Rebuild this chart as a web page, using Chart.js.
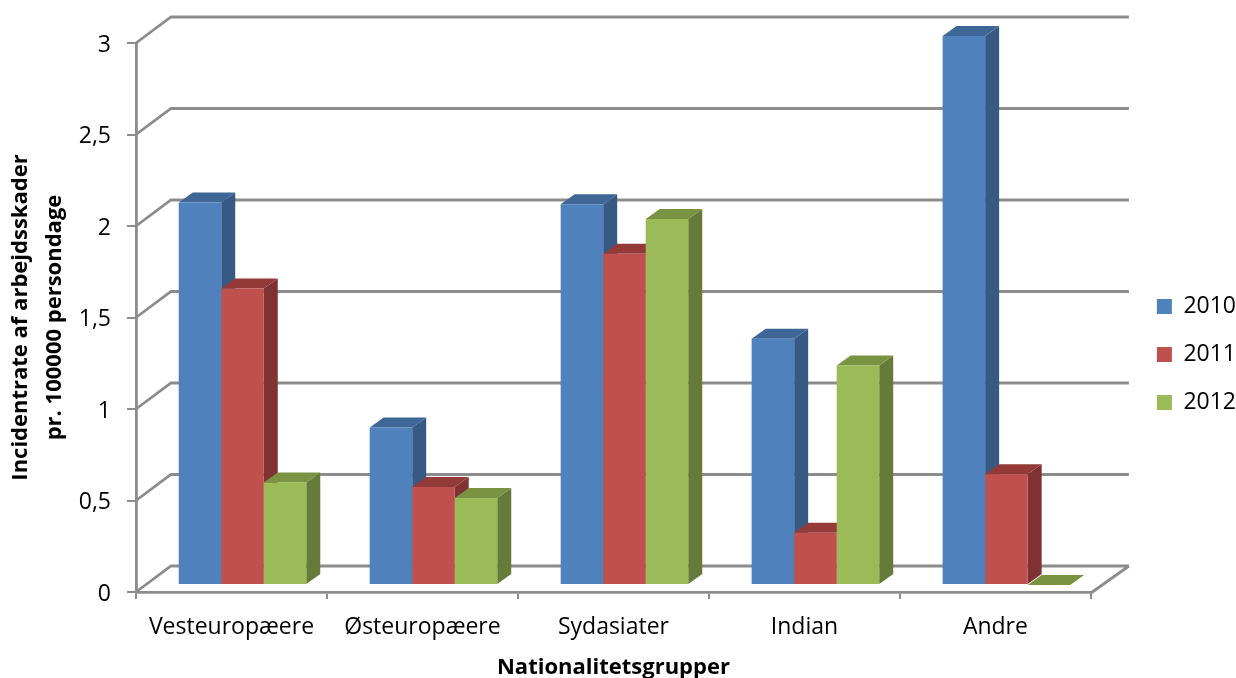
<!DOCTYPE html>
<html>
<head>
<meta charset="utf-8">
<title>Incidentrate af arbejdsskader</title>
<style>
  html, body { margin: 0; padding: 0; background: #fff; }
  canvas { display: block; }
</style>
<script src="https://cdn.jsdelivr.net/npm/chart.js@4/dist/chart.umd.min.js"></script>
</head>
<body>
<canvas id="chart" width="1236" height="678"></canvas>
<script>
// Data.
const categories = ['Vesteuropæere', 'Østeuropæere', 'Sydasiater', 'Indian', 'Andre'];
const values2010 = [2.09, 0.86, 2.08, 1.345, 3.0];
const values2011 = [1.62, 0.535, 1.81, 0.285, 0.605];
const values2012 = [0.56, 0.475, 2.0, 1.2, 0];
const tickLabels = ['0', '0,5', '1', '1,5', '2', '2,5', '3'];

// Fake 3D: front, side and top colours per series.
const FRONT = ['#4F81BD', '#C0504D', '#9BBB59'];
const SIDE = ['#375A85', '#7F3231', '#667A3A'];
const TOP = ['#3E6696', '#943A38', '#7A9342'];
const AXIS = '#8C8C8C';
const FONT = 'Open Sans';

const WALL_DX = 35, WALL_DY = -26;   // back wall offset
const BAR_DX = 11, BAR_DY = -7;      // bars stand in the middle of the floor
const SIDE_DX = 14, SIDE_DY = -10;   // depth of a bar

function poly(ctx, color, pts) {
    ctx.fillStyle = color;
    ctx.beginPath();
    pts.forEach(([x, y], i) => i ? ctx.lineTo(x, y) : ctx.moveTo(x, y));
    ctx.closePath();
    ctx.fill();
}

const walls = {
    id: 'walls',
    beforeDatasetsDraw(chart) {
        const {ctx, chartArea: area, scales: {y}} = chart;
        ctx.save();
        ctx.strokeStyle = AXIS;
        ctx.lineWidth = 2.8;
        y.ticks.forEach(t => {
            const py = y.getPixelForValue(t.value);
            ctx.beginPath();
            ctx.moveTo(area.left, py);
            ctx.lineTo(area.left + WALL_DX, py + WALL_DY);
            ctx.lineTo(area.right + WALL_DX + 3, py + WALL_DY);
            ctx.stroke();
        });
        // right edge of the floor
        ctx.beginPath();
        ctx.moveTo(area.right, area.bottom + 1);
        ctx.lineTo(area.right + WALL_DX + 3, area.bottom + WALL_DY);
        ctx.stroke();
        ctx.restore();

        // Sides and tops first, series by series, the fronts go over them.
        ctx.save();
        ctx.translate(BAR_DX, BAR_DY);
        chart.getSortedVisibleDatasetMetas().forEach((meta, i) => {
            meta.data.forEach(bar => {
                const {x, y: top, base, width} = bar.getProps(['x', 'y', 'base', 'width'], true);
                const l = x - width / 2, r = x + width / 2;
                poly(ctx, SIDE[i], [[r, top], [r + SIDE_DX, top + SIDE_DY], [r + SIDE_DX, base + SIDE_DY], [r, base]]);
                poly(ctx, TOP[i], [[l, top], [l + SIDE_DX, top + SIDE_DY], [r + SIDE_DX, top + SIDE_DY], [r, top]]);
            });
        });
    },
    afterDatasetsDraw(chart) {
        chart.ctx.restore();
    },
    afterLayout(chart) {
        // legend sits further right than the layout would put it
        const lg = chart.legend;
        lg.left += 41; lg.right += 41;
        lg.top -= 6; lg.bottom -= 6;
    }
};

new Chart(document.getElementById('chart'), {
    type: 'bar',
    data: {
        labels: categories,
        datasets: [
            {label: '2010', data: values2010, backgroundColor: FRONT[0], clip: false},
            {label: '2011', data: values2011, backgroundColor: FRONT[1], clip: false},
            {label: '2012', data: values2012, backgroundColor: FRONT[2], clip: false}
        ]
    },
    plugins: [walls],
    options: {
        responsive: false,
        animation: false,
        devicePixelRatio: 1,
        categoryPercentage: 0.668,
        barPercentage: 1,
        layout: {autoPadding: false, padding: {top: 43, right: 31}},
        plugins: {
            tooltip: {enabled: false},
            legend: {
                position: 'right',
                labels: {
                    boxWidth: 15, boxHeight: 15, padding: 25,
                    color: '#000',
                    font: {family: FONT, size: 23}
                }
            }
        },
        scales: {
            x: {
                afterFit(s) { s.height = 86; },
                grid: {drawOnChartArea: false, color: AXIS, lineWidth: 2, tickLength: 7},
                border: {color: AXIS, width: 2.8},
                ticks: {color: '#000', font: {family: FONT, size: 23}, maxRotation: 0, padding: 15},
                title: {
                    display: true, text: 'Nationalitetsgrupper', color: '#000',
                    font: {family: FONT, size: 22, weight: 'bold'}, padding: {top: 0, bottom: -3}
                }
            },
            y: {
                min: 0, max: 3,
                afterFit(s) { s.width = 136; },
                grid: {drawOnChartArea: false, color: AXIS, lineWidth: 2, tickLength: 9},
                border: {color: AXIS, width: 2.8},
                ticks: {
                    stepSize: 0.5, color: '#000', padding: 16, labelOffset: 2,
                    font: {family: FONT, size: 23},
                    callback: (v, i) => tickLabels[i]
                },
                title: {
                    display: true,
                    text: ['Incidentrate af arbejdsskader', 'pr. 100000 persondage'],
                    color: '#000',
                    font: {family: FONT, size: 22, weight: 'bold', lineHeight: 1.55},
                    padding: {top: 4, bottom: 0}
                }
            }
        }
    }
});
</script>
</body>
</html>
